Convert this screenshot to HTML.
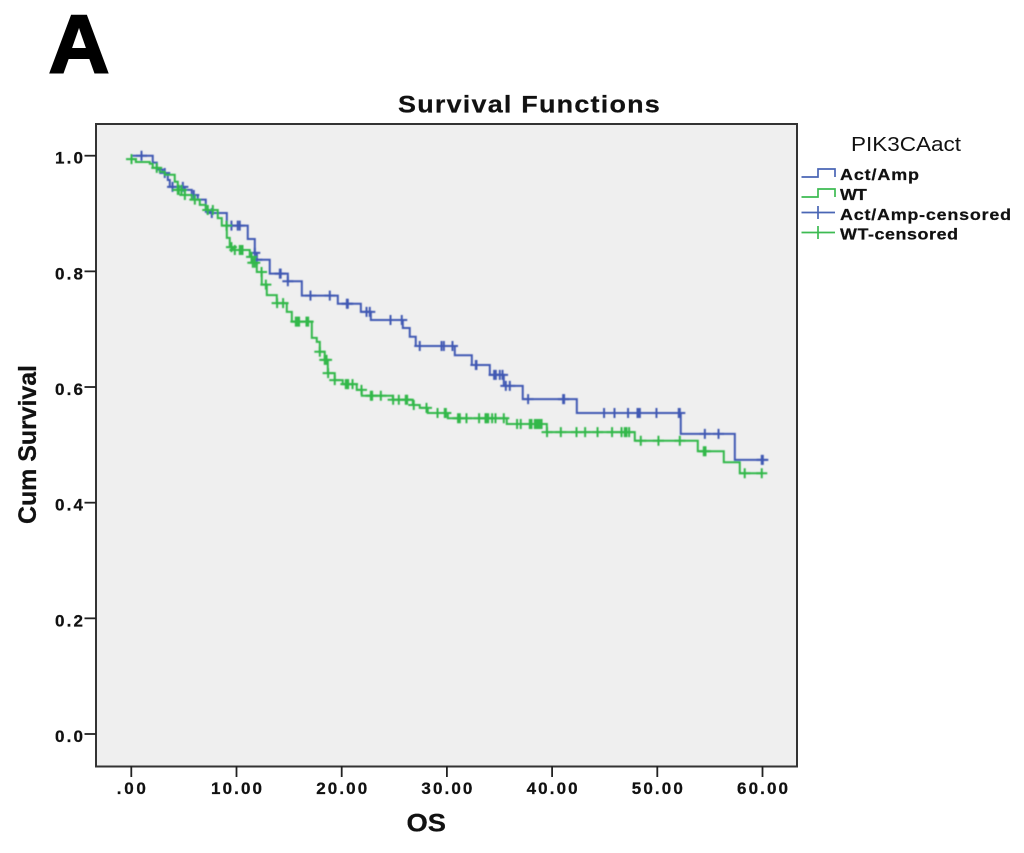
<!DOCTYPE html>
<html>
<head>
<meta charset="utf-8">
<title>Survival Functions</title>
<style>
html,body{margin:0;padding:0;background:#fff;}
svg{display:block;}
text{font-family:"Liberation Sans",sans-serif;fill:#111;}
.b{font-weight:bold;stroke:#111;stroke-width:0.25;}
</style>
</head>
<body>
<svg id="chart" xmlns="http://www.w3.org/2000/svg" width="1024" height="853" viewBox="0 0 1024 853">
  <defs>
    <filter id="soft" x="-5%" y="-5%" width="110%" height="110%"><feGaussianBlur stdDeviation="0.4"/></filter>
  </defs>
  <rect x="0" y="0" width="1024" height="853" fill="#ffffff"/>
  <text x="48.5" y="72.5" font-size="83" font-weight="bold" stroke="#000" stroke-width="2" style="fill:#000" textLength="61" lengthAdjust="spacingAndGlyphs">A</text>
  <text class="b" transform="translate(398,112.5) scale(1.1,1)" x="0" y="0" font-size="24.5" textLength="238" lengthAdjust="spacing">Survival Functions</text>
  <rect x="96" y="124" width="701" height="642.5" fill="#efefef" stroke="#333" stroke-width="2"/>
  <g id="y-axis"></g>
  <g id="x-axis"></g>
  <g id="series" filter="url(#soft)"></g>
  <text class="b" transform="translate(36,524) rotate(-90)" x="0" y="0" font-size="25" textLength="159" lengthAdjust="spacing">Cum Survival</text>
  <text class="b" x="406.5" y="831.5" font-size="25" textLength="39.5" lengthAdjust="spacingAndGlyphs">OS</text>

  <g>
    <text x="851" y="151" font-size="20" textLength="110" lengthAdjust="spacingAndGlyphs">PIK3CAact</text>
    <path d="M801.5 177H818V169H835V177" fill="none" stroke="#4a66b5" stroke-width="1.7"/>
    <text class="b" transform="translate(840,180) scale(1.12,1)" x="0" y="0" font-size="16" textLength="70.5" lengthAdjust="spacing">Act/Amp</text>
    <path d="M801.5 197H818V189H835V197" fill="none" stroke="#3dbb52" stroke-width="1.7"/>
    <text class="b" transform="translate(840,200) scale(1.12,1)" x="0" y="0" font-size="16" textLength="24" lengthAdjust="spacing">WT</text>
    <path d="M801.5 212.5H835M818 206V219" fill="none" stroke="#4a66b5" stroke-width="1.7"/>
    <text class="b" transform="translate(840,220) scale(1.12,1)" x="0" y="0" font-size="16" textLength="152.7" lengthAdjust="spacing">Act/Amp-censored</text>
    <path d="M801.5 232.5H835M818 226V239" fill="none" stroke="#3dbb52" stroke-width="1.7"/>
    <text class="b" transform="translate(840,239.5) scale(1.12,1)" x="0" y="0" font-size="16" textLength="105.4" lengthAdjust="spacing">WT-censored</text>
  </g>
</svg>
<script>
const xTickValues = [0, 10, 20, 30, 40, 50, 60];
const xTickLabels = [".00", "10.00", "20.00", "30.00", "40.00", "50.00", "60.00"];
const yTickValues = [0, 0.2, 0.4, 0.6, 0.8, 1.0];
const yTickLabels = ["0.0", "0.2", "0.4", "0.6", "0.8", "1.0"];

const actStepTimes = [0, 2.04, 2.42, 2.99, 3.47, 3.66, 5.09, 5.75, 6.32, 7.08, 7.65, 9.08, 11.07, 11.74, 11.93, 13.16, 14.88, 16.21, 19.63, 21.82, 22.77, 25.81, 26.47, 27.04, 30.75, 32.37, 34.08, 35.41, 37.21, 42.35, 52.23, 57.37];
const actStepSurvival = [1.0, 0.988, 0.976, 0.970, 0.958, 0.946, 0.941, 0.932, 0.924, 0.903, 0.901, 0.879, 0.856, 0.832, 0.820, 0.796, 0.783, 0.758, 0.744, 0.730, 0.716, 0.702, 0.687, 0.671, 0.655, 0.638, 0.621, 0.602, 0.579, 0.555, 0.519, 0.474];
const actCensorTimes = [0.97, 3.18, 3.92, 4.9, 5.94, 7.65, 9.52, 10.12, 10.31, 11.74, 11.93, 14.12, 14.2, 14.88, 17.03, 18.87, 20.49, 20.58, 22.36, 22.67, 24.64, 25.71, 27.42, 29.49, 29.71, 30.53, 32.75, 32.81, 34.49, 34.65, 35.03, 35.29, 35.6, 35.98, 37.72, 41.05, 41.14, 44.94, 45.93, 47.22, 48.12, 48.24, 48.34, 49.92, 52.04, 52.14, 54.52, 55.82, 59.93, 60.03];

const wtStepTimes = [0, 0.43, 1.76, 2.04, 2.71, 3.18, 4.13, 4.42, 5.09, 5.75, 6.51, 7.08, 8.22, 8.60, 9.08, 9.36, 9.65, 11.26, 11.45, 11.93, 12.40, 12.88, 13.83, 14.78, 15.26, 17.16, 17.63, 17.92, 18.39, 18.68, 19.34, 20.10, 21.43, 21.91, 24.86, 26.76, 27.42, 28.18, 30.09, 35.69, 39.50, 47.86, 53.85, 56.32, 57.84];
const wtStepSurvival = [0.994, 0.989, 0.986, 0.979, 0.972, 0.967, 0.955, 0.941, 0.932, 0.924, 0.915, 0.906, 0.892, 0.879, 0.858, 0.842, 0.837, 0.825, 0.815, 0.799, 0.777, 0.759, 0.745, 0.730, 0.713, 0.685, 0.678, 0.661, 0.647, 0.624, 0.612, 0.605, 0.595, 0.585, 0.578, 0.569, 0.564, 0.555, 0.546, 0.536, 0.522, 0.507, 0.489, 0.470, 0.451];
const wtCensorTimes = [0.02, 2.42, 4.42, 4.52, 4.77, 5.09, 6.04, 7.27, 7.75, 9.05, 9.52, 9.84, 10.31, 10.48, 10.57, 11.43, 11.55, 11.74, 12.38, 12.79, 13.86, 14.43, 15.64, 15.8, 15.95, 16.65, 16.81, 17.92, 18.39, 18.56, 18.71, 19.34, 20.39, 20.51, 20.61, 21.03, 21.88, 22.77, 22.89, 23.72, 24.89, 25.43, 26.09, 26.22, 26.85, 28.06, 29.11, 29.8, 29.9, 31.06, 31.23, 31.86, 33.06, 33.67, 33.76, 33.92, 34.3, 34.62, 35.41, 36.67, 37.02, 37.88, 38.04, 38.36, 38.52, 38.67, 38.83, 39.0, 39.52, 40.83, 42.32, 43.14, 44.32, 45.7, 46.6, 46.91, 47.07, 47.32, 48.43, 50.11, 52.14, 54.42, 54.58, 58.31, 59.93];

const NS = "http://www.w3.org/2000/svg";
function xScale(t) { return 131.3 + 10.52 * t; }
function yScale(s) { return 734 - 578.3 * s; }

function stepValue(times, surv, t) {
  let v = surv[0];
  for (let i = 0; i < times.length; i++) {
    if (times[i] <= t) v = surv[i];
  }
  return v;
}

function stepPath(times, surv, endT) {
  let d = "M" + xScale(times[0]).toFixed(2) + " " + yScale(surv[0]).toFixed(2);
  for (let i = 1; i < times.length; i++) {
    d += "H" + xScale(times[i]).toFixed(2) + "V" + yScale(surv[i]).toFixed(2);
  }
  d += "H" + xScale(endT).toFixed(2);
  return d;
}

const xAxisGroup = document.getElementById("x-axis");
xTickValues.forEach(function (v, i) {
  const x = xScale(v);
  const tick = document.createElementNS(NS, "line");
  
  
  tick.setAttribute("x1", x);
  tick.setAttribute("x2", x);
  tick.setAttribute("y1", 766);
  tick.setAttribute("y2", 777);
  tick.setAttribute("stroke", "#222");
  tick.setAttribute("stroke-width", 1.8);
  xAxisGroup.appendChild(tick);
  const label = document.createElementNS(NS, "text");
  
  
  label.setAttribute("class", "b");
  label.setAttribute("x", x);
  label.setAttribute("y", 794);
  label.setAttribute("text-anchor", "middle");
  label.setAttribute("font-size", 17);
  label.setAttribute("textLength", xTickLabels[i].length === 3 ? 29 : 51);
  label.setAttribute("lengthAdjust", "spacing");
  label.textContent = xTickLabels[i];
  xAxisGroup.appendChild(label);
});

const yAxisGroup = document.getElementById("y-axis");
yTickValues.forEach(function (v, i) {
  const y = yScale(v);
  const tick = document.createElementNS(NS, "line");
  
  
  tick.setAttribute("x1", 84.5);
  tick.setAttribute("x2", 96);
  tick.setAttribute("y1", y);
  tick.setAttribute("y2", y);
  tick.setAttribute("stroke", "#222");
  tick.setAttribute("stroke-width", 1.8);
  yAxisGroup.appendChild(tick);
  const label = document.createElementNS(NS, "text");
  
  
  label.setAttribute("class", "b");
  label.setAttribute("x", 55);
  label.setAttribute("y", y + 8);
  label.setAttribute("font-size", 17);
  label.setAttribute("textLength", 28);
  label.setAttribute("lengthAdjust", "spacing");
  label.textContent = yTickLabels[i];
  yAxisGroup.appendChild(label);
});

const seriesGroup = document.getElementById("series");

function drawCensors(times, stepT, stepS, color) {
  times.forEach(function (t) {
    const x = xScale(t);
    const y = yScale(stepValue(stepT, stepS, t));
    const mark = document.createElementNS(NS, "path");
    
    
    mark.setAttribute("d", "M" + (x - 5.5).toFixed(2) + " " + y.toFixed(2) + "h11M" + x.toFixed(2) + " " + (y - 5).toFixed(2) + "v10");
    mark.setAttribute("fill", "none");
    mark.setAttribute("stroke", color);
    mark.setAttribute("stroke-width", 2);
    seriesGroup.appendChild(mark);
  });
}

const actColor = "#4059b3";
const wtColor = "#33b84a";

const actLine = document.createElementNS(NS, "path");


actLine.setAttribute("d", stepPath(actStepTimes, actStepSurvival, 60));
actLine.setAttribute("fill", "none");
actLine.setAttribute("stroke", actColor);
actLine.setAttribute("stroke-width", 2);
seriesGroup.appendChild(actLine);
drawCensors(actCensorTimes, actStepTimes, actStepSurvival, actColor);

const wtLine = document.createElementNS(NS, "path");


wtLine.setAttribute("d", stepPath(wtStepTimes, wtStepSurvival, 60));
wtLine.setAttribute("fill", "none");
wtLine.setAttribute("stroke", wtColor);
wtLine.setAttribute("stroke-width", 2);
seriesGroup.appendChild(wtLine);
drawCensors(wtCensorTimes, wtStepTimes, wtStepSurvival, wtColor);
</script>
</body>
</html>
